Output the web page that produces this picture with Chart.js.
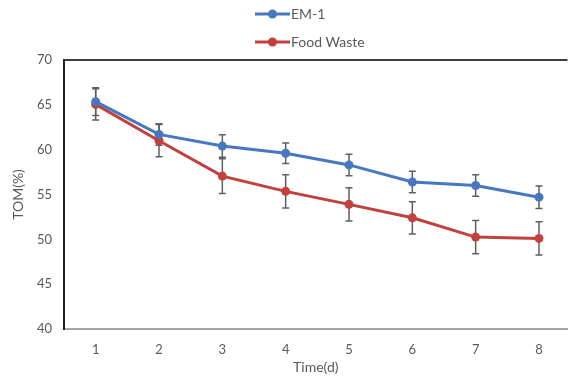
<!DOCTYPE html>
<html>
<head>
<meta charset="utf-8">
<script src="https://cdn.jsdelivr.net/npm/chart.js@4/dist/chart.umd.min.js"></script>
<style>
  html, body { margin: 0; padding: 0; background: #ffffff; }
  #wrap { width: 572px; height: 377px; position: relative; }
</style>
</head>
<body>
<div id="wrap"><canvas id="c" width="572" height="377"></canvas></div>
<script>
// Sampling days
const days = [1, 2, 3, 4, 5, 6, 7, 8];
// Total organic matter (%) per treatment
const em1Values = [65.35, 61.7, 60.4, 59.6, 58.3, 56.4, 56.0, 54.7];
const foodWasteValues = [65.05, 61.0, 57.05, 55.35, 53.9, 52.4, 50.25, 50.1];
// Standard deviations
const em1Errors = [1.55, 1.2, 1.25, 1.15, 1.2, 1.2, 1.2, 1.25];
const foodWasteErrors = [1.75, 1.8, 1.95, 1.85, 1.85, 1.8, 1.85, 1.85];
// Y axis ticks
const yTicks = [40, 45, 50, 55, 60, 65, 70];

const seriesNames = ['EM-1', 'Food Waste'];
const BLUE = '#4777C0';
const RED = '#C2403D';
const TEXT = '#595959';
const FONT = 'Lato, "Liberation Sans", Arial, sans-serif';

// Vertical error bars with caps, drawn from the datasets' error arrays
const errorBars = {
  id: 'errorBars',
  beforeDatasetsDraw(chart) {
    const { ctx } = chart;
    const xs = chart.scales.x, ys = chart.scales.y;
    ctx.save();
    ctx.strokeStyle = '#5f5f5f';
    ctx.lineWidth = 1.5;
    chart.data.datasets.forEach(ds => {
      ds.data.forEach((p, i) => {
        const e = ds.errors[i];
        const x = xs.getPixelForValue(p.x);
        const yTop = ys.getPixelForValue(p.y + e);
        const yBot = ys.getPixelForValue(p.y - e);
        ctx.beginPath();
        ctx.moveTo(x, yTop); ctx.lineTo(x, yBot);
        ctx.moveTo(x - 3.5, yTop); ctx.lineTo(x + 3.5, yTop);
        ctx.moveTo(x - 3.5, yBot); ctx.lineTo(x + 3.5, yBot);
        ctx.stroke();
      });
    });
    ctx.restore();
  }
};

// Stacked legend entries (line with marker) above the plot
const stackedLegend = {
  id: 'stackedLegend',
  afterDraw(chart) {
    const { ctx } = chart;
    const rows = [14, 42];
    ctx.save();
    chart.data.datasets.forEach((ds, i) => {
      const y = rows[i];
      ctx.strokeStyle = ds.borderColor;
      ctx.lineWidth = 3;
      ctx.beginPath();
      ctx.moveTo(255, y); ctx.lineTo(290, y);
      ctx.stroke();
      ctx.fillStyle = ds.borderColor;
      ctx.beginPath();
      ctx.arc(272.5, y, 4.5, 0, Math.PI * 2);
      ctx.fill();
      ctx.fillStyle = TEXT;
      ctx.font = '14px ' + FONT;
      ctx.textBaseline = 'middle';
      ctx.textAlign = 'left';
      ctx.fillText(ds.label, 291, y);
    });
    ctx.restore();
  }
};

new Chart(document.getElementById('c'), {
  type: 'line',
  data: {
    datasets: [
      {
        label: seriesNames[0],
        data: days.map((d, i) => ({ x: d, y: em1Values[i] })),
        errors: em1Errors,
        borderColor: BLUE,
        backgroundColor: BLUE,
        borderWidth: 3,
        pointRadius: 4.5,
        pointBorderWidth: 0,
        tension: 0
      },
      {
        label: seriesNames[1],
        data: days.map((d, i) => ({ x: d, y: foodWasteValues[i] })),
        errors: foodWasteErrors,
        borderColor: RED,
        backgroundColor: RED,
        borderWidth: 3,
        pointRadius: 4.5,
        pointBorderWidth: 0,
        tension: 0
      }
    ]
  },
  options: {
    responsive: false,
    animation: false,
    devicePixelRatio: 1,
    layout: { padding: { top: 60, right: 1, left: 0, bottom: 0 } },
    plugins: {
      legend: { display: false },
      tooltip: { enabled: false }
    },
    scales: {
      x: {
        type: 'linear',
        min: 0.5,
        max: 8.45,
        afterBuildTicks(scale) { scale.ticks = days.map(v => ({ value: v })); },
        afterFit(scale) { scale.height = 48; },
        grid: { display: true, color: 'rgba(0,0,0,0)', drawTicks: false },
        border: { display: true, color: '#a6a6a6', width: 2 },
        ticks: {
          color: TEXT,
          font: { family: FONT, size: 13 },
          padding: 13,
          maxRotation: 0,
          callback: v => String(v)
        },
        title: {
          display: true,
          text: 'Time(d)',
          color: TEXT,
          font: { family: FONT, size: 14 },
          padding: { top: 0, bottom: 1 }
        }
      },
      y: {
        min: 40,
        max: 70,
        afterBuildTicks(scale) { scale.ticks = yTicks.map(v => ({ value: v })); },
        afterFit(scale) { scale.width = 64; },
        grid: {
          drawTicks: false,
          color: c => (c.tick && c.tick.value === 70 ? '#3d3d3d' : 'rgba(0,0,0,0)'),
          lineWidth: 2
        },
        border: { display: true, color: '#1e1e1e', width: 2 },
        ticks: {
          color: TEXT,
          font: { family: FONT, size: 13 },
          padding: 12
        },
        title: {
          display: true,
          text: 'TOM(%)',
          color: TEXT,
          font: { family: FONT, size: 14 },
          padding: { top: 10, bottom: 0 }
        }
      }
    }
  },
  plugins: [errorBars, stackedLegend]
});
</script>
</body>
</html>
